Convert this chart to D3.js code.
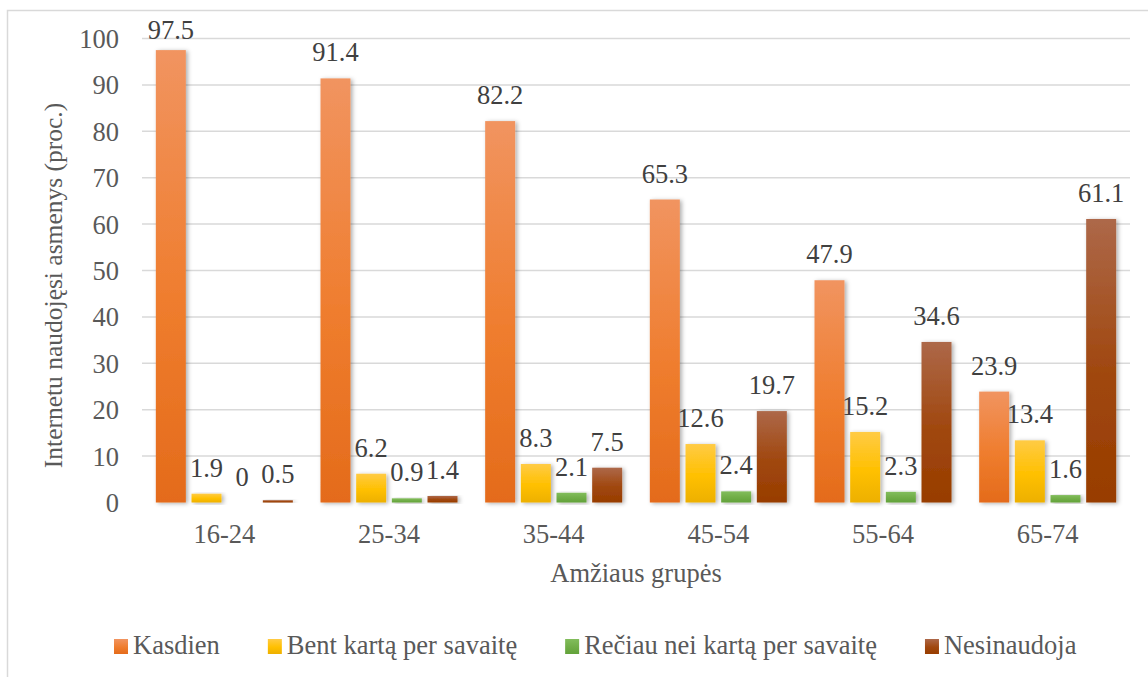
<!DOCTYPE html>
<html>
<head>
<meta charset="utf-8">
<script src="https://cdn.jsdelivr.net/npm/d3@7"></script>
<style>
  html, body { margin: 0; padding: 0; background: #fff; }
  svg { display: block; }
  svg text { font-family: 'Liberation Serif', Tinos, 'Times New Roman', 'DejaVu Serif', serif; }
</style>
</head>
<body>
<svg id="chart" width="1148" height="677"></svg>
<script>
// Age groups and series (share of internet users, %)
const groups = ["16-24", "25-34", "35-44", "45-54", "55-64", "65-74"];
const seriesNames = ["Kasdien", "Bent kartą per savaitę", "Rečiau nei kartą per savaitę", "Nesinaudoja"];
const kasdien = [97.5, 91.4, 82.2, 65.3, 47.9, 23.9];
const bentKarta = [1.9, 6.2, 8.3, 12.6, 15.2, 13.4];
const reciau = [0, 0.9, 2.1, 2.4, 2.3, 1.6];
const nesinaudoja = [0.5, 1.4, 7.5, 19.7, 34.6, 61.1];
const yTicks = [0, 10, 20, 30, 40, 50, 60, 70, 80, 90, 100];

const seriesValues = [kasdien, bentKarta, reciau, nesinaudoja];
// gradient stops per series: [top, middle, bottom]
const seriesColors = [
  ["#F19460", "#EF7D2E", "#E46B1B"],
  ["#FFCB45", "#FFC000", "#EDB000"],
  ["#82BD5C", "#70AD47", "#62A23A"],
  ["#AD6849", "#A0470E", "#983D00"]
];

const svg = d3.select("#chart");
const fs = 26.5;

const plot = { left: 142, right: 1130, top: 38.5, bottom: 502.5 };

const x0 = d3.scaleBand().domain(groups)
  .range([plot.left, plot.right]).paddingInner(0.168).paddingOuter(0.084);
const x1 = d3.scaleBand().domain(seriesNames)
  .range([0, x0.bandwidth()]).paddingInner(0.159).paddingOuter(0);
const y = d3.scaleLinear().domain([0, 100]).range([plot.bottom, plot.top]);

const defs = svg.append("defs");
seriesColors.forEach((c, i) => {
  const g = defs.append("linearGradient").attr("id", "grad" + i)
    .attr("x1", 0).attr("y1", 0).attr("x2", 0).attr("y2", 1);
  g.append("stop").attr("offset", "0%").attr("stop-color", c[0]);
  g.append("stop").attr("offset", "55%").attr("stop-color", c[1]);
  g.append("stop").attr("offset", "100%").attr("stop-color", c[2]);
});
const shadow = defs.append("filter").attr("id", "shadow")
  .attr("x", "-30%").attr("y", "-10%").attr("width", "160%").attr("height", "130%");
shadow.append("feDropShadow").attr("dx", 2).attr("dy", 1).attr("stdDeviation", 2.2)
  .attr("flood-color", "#000").attr("flood-opacity", 0.32);

// chart frame
svg.append("rect").attr("x", 7.5).attr("y", 10.5).attr("width", 1160).attr("height", 700)
  .attr("fill", "#fff").attr("stroke", "#d9d9d9").attr("stroke-width", 1.5);

// horizontal gridlines
svg.append("g").selectAll("line").data(yTicks.filter(t => t > 0)).join("line")
  .attr("x1", plot.left).attr("x2", plot.right)
  .attr("y1", d => y(d)).attr("y2", d => y(d))
  .attr("stroke", "#d9d9d9").attr("stroke-width", 1.5);

// y tick labels
const yAxis = d3.axisLeft(y).tickValues(yTicks).tickSize(0).tickPadding(0);
const yg = svg.append("g").attr("transform", `translate(119,0)`).call(yAxis);
yg.select(".domain").remove();
yg.attr("font-family", null).attr("font-size", null);
yg.selectAll("text").attr("font-size", fs)
  .attr("fill", "#595959").attr("dy", "0.34em");

// bars
const bars = svg.append("g");
groups.forEach((grp, gi) => {
  seriesNames.forEach((s, si) => {
    const v = seriesValues[si][gi];
    bars.append("rect")
      .attr("x", x0(grp) + x1(s))
      .attr("y", y(v))
      .attr("width", x1.bandwidth())
      .attr("height", y(0) - y(v))
      .attr("fill", `url(#grad${si})`)
      .attr("filter", v > 0 ? "url(#shadow)" : null);
  });
});

// x axis baseline
svg.append("line").attr("x1", plot.left).attr("x2", plot.right)
  .attr("y1", y(0) + 1).attr("y2", y(0) + 1)
  .attr("stroke", "#d0d0d0").attr("stroke-width", 2.5)
  .attr("filter", "url(#shadow)");

// value labels
const labels = svg.append("g");
groups.forEach((grp, gi) => {
  seriesNames.forEach((s, si) => {
    const v = seriesValues[si][gi];
    labels.append("text")
      .attr("x", x0(grp) + x1(s) + x1.bandwidth() / 2)
      .attr("y", Math.max(y(v) - 17, y(100)))
      .attr("text-anchor", "middle")
      .attr("font-size", fs)
      .attr("fill", "#404040")
      .text(String(v));
  });
});

// x tick labels
const xAxis = d3.axisBottom(x0).tickSize(0).tickPadding(0);
const xg = svg.append("g").attr("transform", `translate(0,${y(0)})`).call(xAxis);
xg.select(".domain").remove();
xg.attr("font-family", null).attr("font-size", null);
xg.selectAll("text").attr("font-size", fs)
  .attr("fill", "#595959").attr("dy", null).attr("y", 40);

// axis titles
svg.append("text")
  .attr("x", (plot.left + plot.right) / 2).attr("y", 582)
  .attr("text-anchor", "middle").attr("font-size", fs)
  .attr("fill", "#595959").text("Amžiaus grupės");

svg.append("text")
  .attr("transform", `translate(62,${(plot.top + plot.bottom) / 2 + 15}) rotate(-90)`)
  .attr("text-anchor", "middle").attr("font-size", 25.5)
  .attr("fill", "#595959").text("Internetu naudojęsi asmenys (proc.)");

// legend
const legend = svg.append("g");
const items = seriesNames.map((s, i) => {
  const g = legend.append("g");
  g.append("rect").attr("x", 0).attr("y", -15).attr("width", 14).attr("height", 15)
    .attr("fill", `url(#grad${i})`);
  const t = g.append("text").attr("x", 19).attr("y", 0)
    .attr("font-size", fs).attr("fill", "#595959").text(s);
  return { g, w: 19 + t.node().getComputedTextLength() };
});
const gap = 48;
let cx = 114;
items.forEach(it => {
  it.g.attr("transform", `translate(${cx},654)`);
  cx += it.w + gap;
});
</script>
</body>
</html>
